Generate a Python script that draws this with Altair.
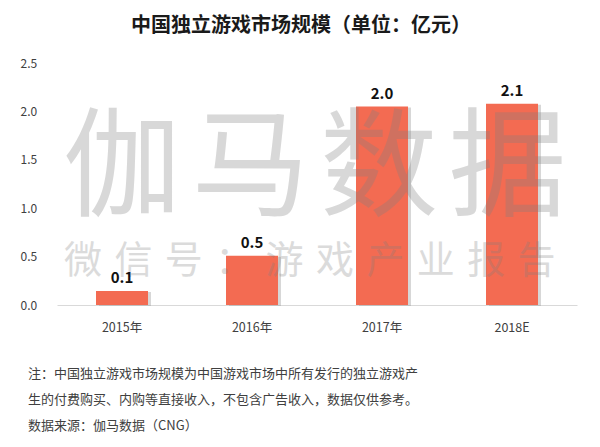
import altair as alt
import pandas as pd

years = ["2015年", "2016年", "2017年", "2018E"]
values = [0.145, 0.51, 2.05, 2.08]
value_labels = ["0.1", "0.5", "2.0", "2.1"]
y_ticks = [0, 0.5, 1.0, 1.5, 2.0, 2.5]

title_text = "中国独立游戏市场规模（单位：亿元）"
notes = [
    "注：中国独立游戏市场规模为中国游戏市场中所有发行的独立游戏产",
    "生的付费购买、内购等直接收入，不包含广告收入，数据仅供参考。",
    "数据来源：伽马数据（CNG）",
]
watermark_big = list("伽马数据")
watermark_small = list("微信号：游戏产业报告")

FONT = "Noto Sans CJK SC"
BAR = "#F36B52"

df = pd.DataFrame({"year": years, "value": values, "label": value_labels})

x_enc = alt.X(
    "year:N",
    sort=years,
    scale=alt.Scale(paddingInner=0.6, paddingOuter=0.3),
    axis=alt.Axis(
        title=None, labelAngle=0, ticks=False, domainColor="#d9d9d9",
        domainWidth=1, labelPadding=16, labelFontSize=12.5, labelColor="#404040",
        labelFont=FONT,
    ),
)
y_enc = alt.Y(
    "value:Q",
    scale=alt.Scale(domain=[0, 2.5]),
    axis=alt.Axis(
        values=y_ticks, format=".1f", grid=False, domain=False, ticks=False,
        labelAlign="left", labelPadding=37, title=None, labelFontSize=12,
        labelColor="#404040", labelFont=FONT,
    ),
)

base = alt.Chart(df)
shadow = base.mark_bar(color="#9a9a9a", opacity=0.4, xOffset=3, yOffset=1).encode(x=x_enc, y=y_enc)
bars = base.mark_bar(color=BAR).encode(x=x_enc, y=y_enc)
labels = base.mark_text(
    dy=-13, fontSize=15, fontWeight="bold", font=FONT, color="#111111"
).encode(x=x_enc, y=y_enc, text="label:N")

layers = [shadow, bars]

for i, ch in enumerate(watermark_big):
    layers.append(
        alt.Chart(pd.DataFrame({"t": [ch]})).mark_text(
            fontSize=118, font=FONT, color="#808080", opacity=0.3,
            baseline="middle", align="center",
        ).encode(x=alt.value(65 + i * 128.5), y=alt.value(109), text="t:N")
    )
for i, ch in enumerate(watermark_small):
    layers.append(
        alt.Chart(pd.DataFrame({"t": [ch]})).mark_text(
            fontSize=38, font=FONT, color="#808080", opacity=0.28,
            baseline="middle", align="center",
        ).encode(x=alt.value(26 + i * 50.4), y=alt.value(199), text="t:N")
    )

layers.append(labels)

for i, line in enumerate(notes):
    layers.append(
        alt.Chart(pd.DataFrame({"t": [line]})).mark_text(
            fontSize=13, font=FONT, color="#404040", align="left", baseline="middle",
        ).encode(x=alt.value(-29), y=alt.value(311 + i * 26), text="t:N")
    )

chart = alt.layer(*layers).properties(
    width=520,
    height=242,
    title=alt.Title(
        title_text, fontSize=20, fontWeight="bold", font=FONT, color="#1a1a1a",
        anchor="middle", dx=-16, offset=21,
    ),
    autosize=alt.AutoSizeParams(type="none"),
    padding={"left": 49, "top": 55, "right": 15, "bottom": 130},
).configure_view(stroke=None)

chart.save("out.html", embed_options={"renderer": "svg", "actions": False})
